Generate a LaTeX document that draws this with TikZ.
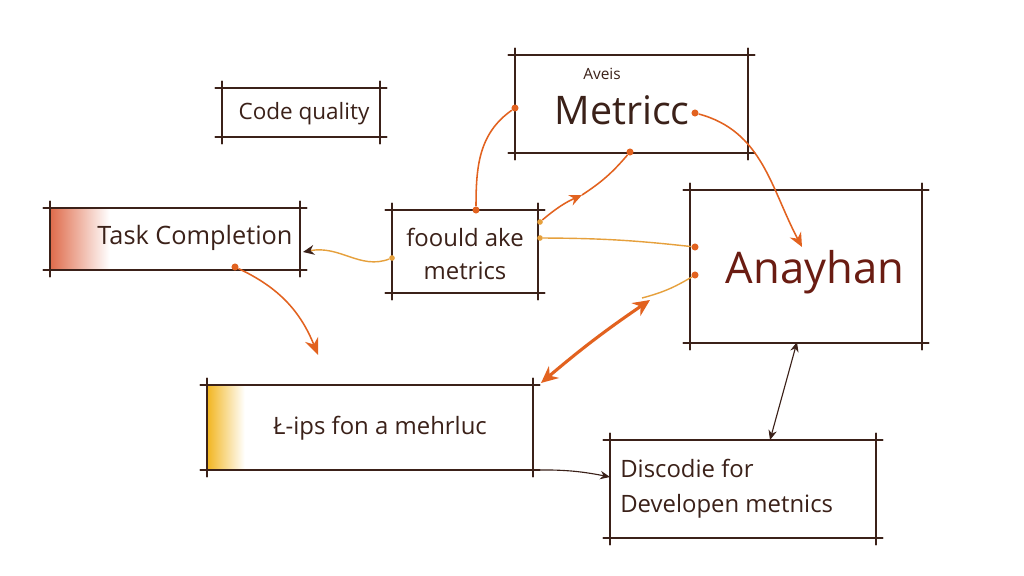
\documentclass[tikz,border=0pt]{standalone}
\usepackage{fontspec}
\setmainfont{Open Sans}
\usetikzlibrary{arrows.meta}
\definecolor{ink}{HTML}{3B2119}
\definecolor{rust}{HTML}{E2621F}
\definecolor{amber}{HTML}{E6A03C}
\definecolor{wine}{HTML}{6A1C12}
\definecolor{hatchred}{HTML}{D9502A}
\definecolor{hatchyel}{HTML}{F2B51E}

\tikzset{
  box/.style={inner sep=0pt},
  edge/.style={draw=ink, line width=1.5pt, line cap=round, shorten <=-4.5pt, shorten >=-4.5pt},
  dot/.style={circle, fill=rust, inner sep=0pt, minimum size=5pt},
  thinline/.style={draw=amber, line width=1pt},
  rustline/.style={draw=rust, line width=1.1pt},
  boldline/.style={draw=rust, line width=2.2pt},
  inkline/.style={draw=ink, line width=0.8pt},
  label/.style={inner sep=0pt, text=ink, align=center},
}
\newcommand{\roughbox}[1]{%
  \draw[edge] (#1.north west) -- (#1.north east);
  \draw[edge] (#1.south west) -- (#1.south east);
  \draw[edge] (#1.north west) -- (#1.south west);
  \draw[edge] (#1.north east) -- (#1.south east);
}

\begin{document}
\begin{tikzpicture}[x=0.025cm, y=0.025cm]
\useasboundingbox (0,0) rectangle (1024,-576);
\fill[white] (0,0) rectangle (1024,-576);

\node[box, minimum width=3.95cm, minimum height=1.225cm] (quality) at (301,-112.5) {};
\node[box, minimum width=5.825cm, minimum height=2.45cm] (metrics) at (631.5,-104) {};
\node[box, minimum width=6.25cm, minimum height=1.55cm] (task) at (175,-239) {};
\node[box, minimum width=3.65cm, minimum height=2.075cm] (found) at (465,-251.5) {};
\node[box, minimum width=5.8cm, minimum height=3.825cm] (anay) at (806,-266.5) {};
\node[box, minimum width=8.15cm, minimum height=2.125cm] (tips) at (370,-427.5) {};
\node[box, minimum width=6.65cm, minimum height=2.45cm] (disc) at (743,-489) {};

\shade[left color=hatchred!85, right color=white] (task.north west) rectangle ([xshift=1.5cm]task.south west);
\shade[left color=hatchyel, right color=white] (tips.north west) rectangle ([xshift=0.95cm]tips.south west);

\roughbox{quality}
\roughbox{metrics}
\roughbox{task}
\roughbox{found}
\roughbox{anay}
\roughbox{tips}
\roughbox{disc}

\node[label, font=\fontsize{16}{19}\selectfont] (qualitytext) at (304,-114) {Code quality};
\node[label, font=\fontsize{11}{13}\selectfont] (aveis) at (602,-74) {Aveis};
\node[label, font=\fontsize{28}{32}\selectfont] (metricstext) at (622,-110) {Metricc};
\node[label, font=\fontsize{18}{21}\selectfont] (tasktext) at (195,-238) {Task Completion};
\node[label, font=\fontsize{17}{23}\selectfont] (foundtext) at (465,-254) {foould ake\\metrics};
\node[label, text=wine, font=\fontsize{31}{36}\selectfont] (anaytext) at (815,-272) {Anayhan};
\node[label, font=\fontsize{17}{20}\selectfont] (tipstext) at (380,-428) {Ł-ips fon a mehrluc};
\node[label, align=left, anchor=west, font=\fontsize{17}{25}\selectfont] (disctext) at (620,-489) {Discodie for\\Developen metnics};

\node[dot] (m1) at (515,-108) {};
\node[dot] (f1) at (476,-210) {};
\node[dot] (m2) at (630,-152) {};
\node[dot, fill=amber, minimum size=4pt] (f2) at (540,-222) {};
\node[dot] (m3) at (695,-113) {};
\node[dot] (a4) at (695,-247) {};
\node[dot, fill=amber, minimum size=4pt] (f4) at (540,-238) {};
\node[dot] (a5) at (695,-275) {};
\node[dot, fill=amber, minimum size=4pt] (f6) at (392,-258) {};
\node[dot] (t7) at (235,-267) {};

\coordinate (mid2) at (582,-195);
\coordinate (tip3) at (802,-247);
\coordinate (bend5) at (642,-298);
\coordinate (dbl1) at (650,-300);
\coordinate (dbl2) at (541,-383);
\coordinate (tip6) at (303,-252);
\coordinate (tip7) at (318,-355);
\coordinate (start8) at (533,-470);
\coordinate (tip8) at (610,-477);
\coordinate (top9) at (797,-342);
\coordinate (tip9) at (770,-440);

\draw[rustline] (m1) to[out=215, in=90] (f1);
\draw[rustline, -{Stealth[length=9pt, width=8pt]}] (f2) to[bend left=8] (mid2);
\draw[rustline] (mid2) to[bend right=8] (m2);
\draw[rustline, -{Stealth[length=10pt, width=9pt]}] (m3) to[out=-15, in=118] (tip3);
\draw[thinline] (a4) to[bend right=3] (f4);
\draw[thinline] (a5) to[bend left=8] (bend5);
\draw[boldline, {Stealth[length=12pt, width=11pt]}-{Stealth[length=12pt, width=11pt]}] (dbl2) to[bend left=3] (dbl1);
\draw[thinline, -{Stealth[length=8pt, width=7pt, color=ink]}] (f6) .. controls (360,-270) and (340,-245) .. (tip6);
\draw[rustline, -{Stealth[length=12pt, width=10pt]}] (t7) to[out=-25, in=112] (tip7);
\draw[inkline, -{Stealth[length=7pt, width=6pt]}] (start8) to[bend left=6] (tip8);
\draw[inkline, {Stealth[length=7pt, width=6pt]}-{Stealth[length=7pt, width=6pt]}] (tip9) -- (top9);
\end{tikzpicture}
\end{document}
